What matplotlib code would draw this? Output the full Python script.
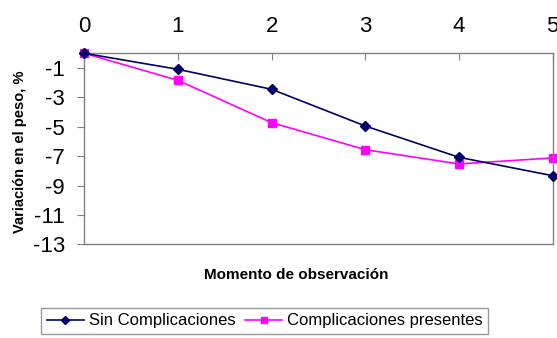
import matplotlib.pyplot as plt
from matplotlib.lines import Line2D

plt.rcParams['font.family'] = ['Liberation Sans', 'DejaVu Sans']
plt.rcParams['axes.unicode_minus'] = False

momentos = [0, 1, 2, 3, 4, 5]
sin_complicaciones = [0.0, -1.09, -2.45, -4.95, -7.08, -8.33]
complicaciones = [0.0, -1.84, -4.72, -6.56, -7.53, -7.12]
y_ticks = [-1, -3, -5, -7, -9, -11, -13]

fig = plt.figure(figsize=(5.57, 3.38), dpi=100)
ax = fig.add_axes([0.1513, 0.2772, 0.8410, 0.5651])

navy = '#000066'
pink = '#ff00ff'
ax.plot(momentos, sin_complicaciones, color=navy, marker='D', markersize=5,
        linewidth=1.2, label='Sin Complicaciones', clip_on=False, zorder=3)
ax.plot(momentos, complicaciones, color=pink, marker='s', markersize=6,
        linewidth=1.2, label='Complicaciones presentes', clip_on=False, zorder=2)

ax.set_xlim(0, 5)
ax.set_ylim(-13, 0)
ax.set_yticks(y_ticks)
ax.set_xticks(momentos)
ax.xaxis.tick_top()
ax.tick_params(axis='x', direction='in', length=5, color='#808080', pad=12,
               labelsize=16)
ax.tick_params(axis='y', direction='out', length=5, color='#808080', pad=9,
               labelsize=16)
for s in ax.spines.values():
    s.set_color('#808080')
    s.set_linewidth(1)

# axis titles placed in figure coordinates
fig.text(0.036, 0.55, 'Variación en el peso, %', fontsize=10.5,
         fontweight='bold', rotation=90, ha='center', va='center')
fig.text(0.531, 0.185, 'Momento de observación', fontsize=11,
         fontweight='bold', ha='center', va='center')

handles = [Line2D([], [], color=navy, marker='D', markersize=4, linewidth=1.2),
           Line2D([], [], color=pink, marker='s', markersize=5, linewidth=1.2)]
leg = fig.legend(handles, ['Sin Complicaciones', 'Complicaciones presentes'],
                 loc='upper left', bbox_to_anchor=(0.074, 0.09), ncol=2,
                 fontsize=12, frameon=True, fancybox=False,
                 handlelength=2.2, handletextpad=0.3, columnspacing=0.6,
                 borderpad=0.35, borderaxespad=0)
leg.get_frame().set_edgecolor('#808080')
leg.get_frame().set_linewidth(1)

fig.savefig('out.png', dpi=100)
